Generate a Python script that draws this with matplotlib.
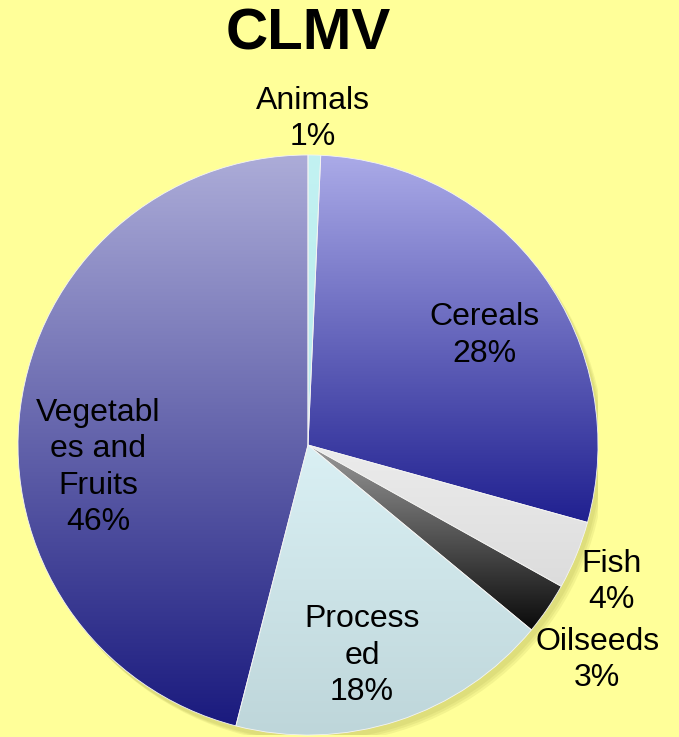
import numpy as np
import matplotlib
matplotlib.use("Agg")
import matplotlib.pyplot as plt
from matplotlib.colors import LinearSegmentedColormap
from matplotlib.patches import Circle

plt.rcParams['font.family'] = ['Liberation Sans', 'DejaVu Sans']

title = "CLMV"
categories = ["Animals", "Cereals", "Fish", "Oilseeds", "Processed", "Vegetables and Fruits"]
label_texts = ["Animals\n1%", "Cereals\n28%", "Fish\n4%", "Oilseeds\n3%", "Process\ned\n18%", "Vegetabl\nes and\nFruits\n46%"]
values = [0.7, 28.6, 3.8, 2.9, 18.0, 46.0]
grad_top = ["#C2F2F2", "#ABABE8", "#ECECEC", "#9A9A9A", "#DAF0F4", "#ACACD8"]
grad_bottom = ["#B8E8EC", "#202090", "#DCDCDC", "#0A0A0A", "#BED6DA", "#1A1A7E"]
label_pos = [(0.017, 1.125), (0.607, 0.377), (1.048, -0.472), (0.997, -0.742), (0.186, -0.727), (-0.724, -0.078)]

W, H = 679, 737
fig = plt.figure(figsize=(W / 100, H / 100), dpi=100)
fig.patch.set_facecolor("#FFFF99")

cx, cy, r = 308, 445, 290
ax = fig.add_axes([(cx - r) / W, (H - cy - r) / H, 2 * r / W, 2 * r / H])
ax.set_facecolor("none")

# soft shadow
for i, a in enumerate([0.10, 0.10, 0.10]):
    ax.add_patch(Circle((0.012 + 0.006 * i, -0.018 - 0.006 * i), 1.0, facecolor="#8a8a30",
                        edgecolor="none", alpha=a, zorder=0))

wedges, _ = ax.pie(values, startangle=90, counterclock=False, radius=1,
                   colors=grad_top, wedgeprops=dict(linewidth=0.6, edgecolor="#f4f4f4"))

for w, ct, cb in zip(wedges, grad_top, grad_bottom):
    ext = w.get_path().get_extents()
    cmap = LinearSegmentedColormap.from_list("g", [ct, cb])
    grad = np.linspace(0, 1, 256).reshape(-1, 1)
    im = ax.imshow(grad, cmap=cmap, extent=[ext.x0, ext.x1, ext.y0, ext.y1],
                   origin="upper", aspect="auto", zorder=2, interpolation="bilinear")
    im.set_clip_path(w)

for w in wedges:
    w.set_zorder(3)
    w.set_facecolor("none")

for txt, (x, y) in zip(label_texts, label_pos):
    ax.text(x, y, txt, ha="center", va="center", fontsize=23, color="black",
            linespacing=1.28, zorder=5)

ax.set_xlim(-1, 1)
ax.set_ylim(-1, 1)
ax.set_aspect("equal")
ax.axis("off")

fig.text(308 / W, 1 - 34 / H, title, ha="center", va="center", fontsize=42,
         fontweight="bold", color="black")

fig.savefig("out.png", dpi=100, facecolor=fig.get_facecolor())
